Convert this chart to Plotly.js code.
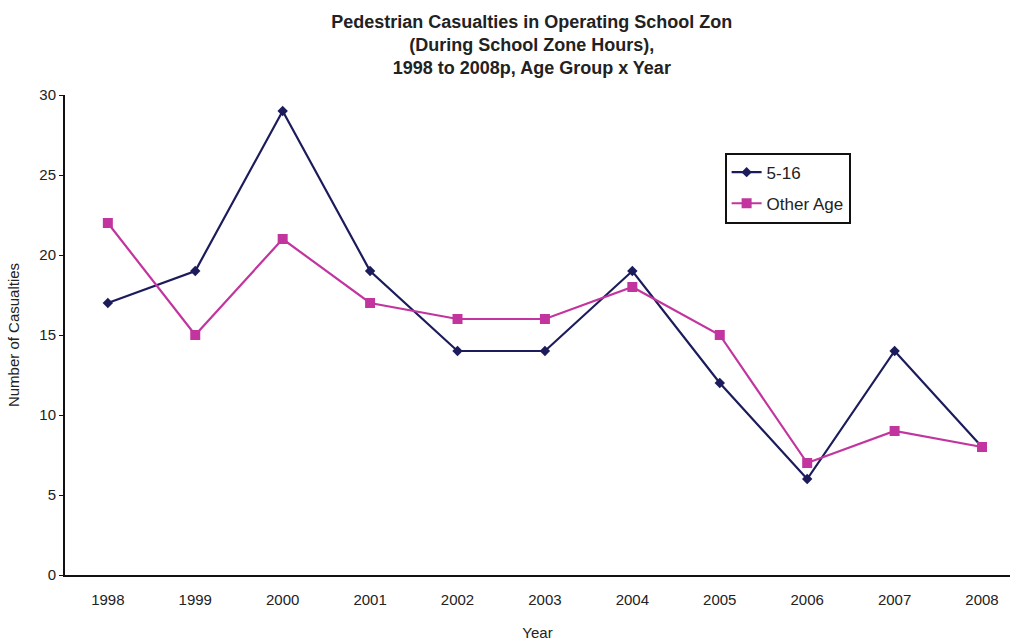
<!DOCTYPE html>
<html>
<head>
<meta charset="utf-8">
<script src="https://cdn.plot.ly/plotly-3.0.1.min.js"></script>
<style>html,body{margin:0;padding:0;background:#fff;}#chart{width:1013px;height:641px;}</style>
</head>
<body>
<div id="chart"></div>
<script>
var years = ['1998','1999','2000','2001','2002','2003','2004','2005','2006','2007','2008'];
var age516 = [17, 19, 29, 19, 14, 14, 19, 12, 6, 14, 8];
var otherAge = [22, 15, 21, 17, 16, 16, 18, 15, 7, 9, 8];
var yTicks = [0, 5, 10, 15, 20, 25, 30];

var navy = '#1c1c5c';
var magenta = '#c2359e';

var traces = [
  {x: years, y: age516, name: '5-16', type: 'scatter', mode: 'lines+markers', legendgroup: 'a',
   line: {color: navy, width: 2.2},
   marker: {symbol: 'diamond', size: 8, color: navy}},
  {x: years, y: otherAge, name: 'Other Age', type: 'scatter', mode: 'lines+markers', legendgroup: 'b',
   line: {color: magenta, width: 2.2},
   marker: {symbol: 'square', size: 10, color: magenta}}
];

var layout = {
  width: 1013, height: 641,
  margin: {l: 65, r: 3, t: 95, b: 66},
  paper_bgcolor: '#fff', plot_bgcolor: '#fff',
  font: {family: 'Liberation Sans, Arial, sans-serif', color: '#222'},
  title: {
    text: '<b>Pedestrian Casualties in Operating School Zon</b><br><b>(During School Zone Hours),</b><br><b>1998 to 2008p, Age Group x Year</b>',
    font: {size: 18, family: 'Liberation Sans, Arial, sans-serif', color: '#222'},
    x: 0.525, xanchor: 'center', y: 0.957, yanchor: 'top'
  },
  xaxis: {
    type: 'category', range: [-0.49, 10.32],
    showline: true, linecolor: '#111', linewidth: 2,
    showgrid: false, zeroline: false, ticks: '',
    tickfont: {size: 15, family: 'Liberation Sans Narrow, Liberation Sans, Arial, sans-serif', color: '#222'},
    ticklabelstandoff: 10,
    title: {text: 'Year', font: {size: 15, family: 'Liberation Sans Narrow, Liberation Sans, Arial, sans-serif', color: '#222'}, standoff: 20}
  },
  yaxis: {
    range: [0, 30], tickvals: yTicks, ticktext: yTicks.map(String),
    showline: true, linecolor: '#111', linewidth: 2,
    showgrid: false, zeroline: false,
    ticks: 'outside', ticklen: 4, tickwidth: 1, tickcolor: '#111',
    tickfont: {size: 15, color: '#222'},
    title: {text: 'Number of Casualties', font: {size: 15, family: 'Liberation Sans Narrow, Liberation Sans, Arial, sans-serif', color: '#222'}, standoff: 16}
  },
  showlegend: true,
  legend: {
    x: 0.698, y: 0.88, xanchor: 'left', yanchor: 'top',
    bgcolor: '#fff', bordercolor: '#111', borderwidth: 2,
    font: {size: 17, color: '#222'},
    itemwidth: 30, tracegroupgap: 6
  }
};

Plotly.newPlot('chart', traces, layout, {displayModeBar: false});
</script>
</body>
</html>
